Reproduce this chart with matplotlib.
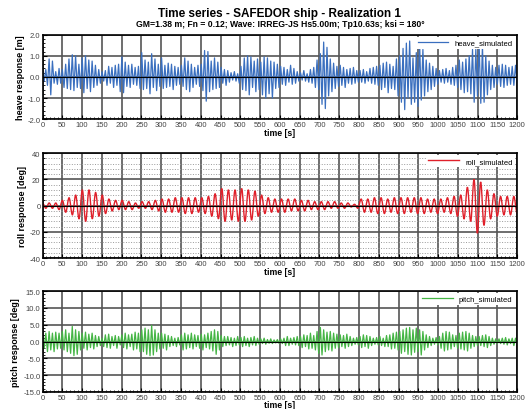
import numpy as np
import matplotlib
matplotlib.use('Agg')
import matplotlib.pyplot as plt
from matplotlib.path import Path
from matplotlib.patches import PathPatch
from matplotlib.lines import Line2D
from matplotlib.ticker import MultipleLocator, FormatStrFormatter

plt.rcParams['font.family'] = ['Liberation Sans', 'DejaVu Sans']

# turning points, one row per 50 s block
heave = [
    0.4, -0.2, 0.35, -0.4, 0.85, -0.85, 0.75, -0.3, 0.25, -0.35, 0.4, -0.3,
    0.35, -0.5, 0.6, -0.55, 0.85, -0.6, 1.05, -0.65, 1.0, -0.5, 0.6, -0.55,
    0.9, -0.75, 1.0, -0.55, 0.8, -0.7, 0.75, -0.5, 0.55, -0.4, 0.35, -0.3,
    0.25, -0.2, 0.3, -0.4, 0.5, -0.3, 0.45, -0.5, 0.55, -0.4, 0.6, -0.7,
    0.95, -0.75, 0.7, -0.45, 0.55, -0.5, 0.6, -0.35, 0.45, -0.4, 0.5, -0.55,
    1.15, -0.6, 0.8, -0.55, 0.7, -0.8, 1.1, -0.5, 0.85, -0.65, 0.6, -0.45,
    0.9, -0.55, 0.55, -0.5, 0.65, -0.45, 0.6, -0.6, 0.5, -0.4, 0.45, -0.35,
    0.55, -0.45, 0.9, -0.6, 0.75, -0.7, 0.6, -0.5, 0.45, -0.35, 0.55, -0.45,
    0.6, -0.65, 1.25, -1.15, 1.2, -0.7, 0.75, -0.6, 0.9, -0.55, 0.7, -0.5,
    0.45, -0.3, 0.35, -0.4, 0.3, -0.25, 0.2, -0.15, 0.25, -0.2, 0.15, -0.3,
    0.5, -0.6, 0.9, -0.65, 1.0, -0.85, 0.95, -0.5, 0.75, -0.7, 0.85, -0.6,
    0.7, -0.85, 0.95, -1.0, 0.9, -0.8, 0.75, -1.0, 0.7, -0.55, 0.6, -0.5,
    0.5, -0.35, 0.45, -0.4, 0.35, -0.25, 0.55, -0.35, 0.4, -0.3, 0.25, -0.2,
    0.2, -0.15, 0.3, -0.2, 0.15, -0.25, 0.35, -0.3, 0.45, -0.5, 0.8, -0.6,
    1.1, -1.3, 1.65, -1.5, 1.4, -0.9, 0.85, -0.7, 0.65, -0.55, 0.5, -0.45,
    0.55, -0.4, 0.45, -0.5, 0.35, -0.3, 0.4, -0.35, 0.45, -0.3, 0.3, -0.25,
    0.3, -0.25, 0.35, -0.3, 0.25, -0.2, 0.4, -0.3, 0.45, -0.35, 0.5, -0.4,
    0.55, -0.6, 0.65, -0.5, 0.7, -0.75, 0.6, -0.55, 0.5, -0.6, 0.85, -0.9,
    1.0, -1.2, 1.35, -1.55, 1.6, -1.0, 1.7, -1.3, 0.9, -1.2, 1.15, -1.4,
    1.6, -1.1, 1.3, -0.9, 0.8, -0.7, 0.65, -0.6, 0.5, -0.45, 0.4, -0.35,
    0.3, -0.25, 0.35, -0.3, 0.4, -0.25, 0.3, -0.35, 0.45, -0.4, 0.55, -0.5,
    0.8, -0.6, 0.7, -0.75, 0.85, -0.7, 1.0, -0.8, 1.3, -1.2, 1.3, -0.9,
    1.5, -1.25, 1.45, -1.2, 1.0, -0.85, 0.75, -0.6, 0.55, -0.5, 0.45, -0.35,
    0.55, -0.45, 0.6, -0.5, 0.55, -0.4, 0.45, -0.35, 0.5, -0.4, 0.55, -0.3,
]

roll = [
    2, -2, 2, -2, 2, -3,
    4, -5, 6, -7, 8, -10,
    12, -12, 12, -10, 10, -8,
    8, -6, 5, -4, 4, -3,
    4, -3, 3, -3, 2, -2,
    3, -2, 3, -3, 4, -4,
    5, -5, 5, -5, 6, -5,
    6, -6, 6, -6, 6, -5,
    6, -6, 7, -8, 9, -10,
    13, -12, 12, -11, 12, -12,
    13, -12, 12, -11, 11, -8,
    8, -6, 6, -5, 5, -5,
    5, -5, 5, -4, 5, -4,
    4, -4, 4, -3, 3, -3,
    3, -3, 3, -2, 3, -2,
    2, -2, 2, -1, 1, -2,
    5, -5, 5, -5, 6, -6,
    6, -6, 5, -5, 6, -6,
    6, -6, 6, -5, 6, -6,
    6, -6, 5, -5, 5, -6,
    5, -5, 6, -6, 7, -8,
    8, -10, 14, -12, 20, -21,
    18, -15, 12, -10, 9, -8,
    7, -7, 7, -7, 7, -6,
]

pitch = [
    1.5, -2.0, 2.5, -3.0, 3.0, -2.5, 2.5, -3.0, 2.8, -2.2, 2.5, -2.0,
    3.0, -2.5, 3.5, -3.0, 2.5, -3.5, 4.5, -4.2, 3.5, -3.8, 3.0, -2.5,
    2.5, -2.0, 2.8, -2.5, 2.2, -1.8, 2.5, -2.2, 1.8, -1.5, 1.5, -1.2,
    1.0, -1.5, 2.0, -1.8, 2.2, -2.0, 1.5, -1.2, 1.8, -2.0, 1.5, -1.0,
    2.0, -1.8, 2.5, -2.2, 2.0, -1.5, 2.2, -2.5, 2.8, -2.2, 2.5, -3.0,
    3.5, -3.0, 4.0, -3.8, 3.5, -4.2, 4.8, -4.0, 3.5, -3.0, 2.5, -2.2,
    2.5, -2.0, 2.2, -2.5, 1.8, -1.5, 1.5, -1.2, 1.0, -1.5, 1.2, -1.0,
    2.0, -2.5, 2.5, -2.2, 2.0, -1.8, 2.5, -2.2, 2.0, -1.5, 1.8, -2.0,
    2.2, -2.5, 2.0, -1.8, 2.5, -2.2, 3.0, -2.8, 3.5, -3.8, 3.0, -2.5,
    1.8, -1.5, 1.5, -1.2, 1.5, -1.0, 1.2, -1.5, 1.0, -1.2, 1.5, -1.0,
    1.2, -1.5, 1.5, -1.2, 1.0, -1.5, 1.2, -1.0, 1.5, -1.2, 1.0, -0.8,
    0.8, -0.6, 1.0, -0.8, 0.6, -0.5, 0.8, -0.6, 0.5, -0.4, 0.6, -0.5,
    0.8, -0.6, 1.0, -1.2, 1.5, -1.2, 1.0, -0.8, 1.2, -1.0, 1.5, -1.2,
    1.5, -1.8, 2.0, -1.5, 1.8, -2.2, 2.5, -2.0, 1.8, -2.5, 3.0, -3.5,
    4.2, -4.0, 3.5, -3.0, 2.8, -2.5, 3.0, -2.8, 2.5, -2.0, 2.2, -1.8,
    2.0, -1.5, 1.8, -2.0, 2.2, -1.5, 1.5, -1.2, 1.0, -0.8, 1.2, -1.0,
    1.5, -1.8, 2.0, -1.5, 1.8, -2.0, 1.5, -1.2, 1.0, -0.8, 1.2, -1.0,
    1.5, -1.2, 1.0, -1.5, 1.8, -1.5, 2.0, -2.2, 2.5, -2.0, 2.8, -2.5,
    3.0, -3.5, 3.5, -3.0, 4.0, -3.8, 4.2, -4.0, 3.5, -3.2, 4.0, -3.0,
    3.5, -4.0, 3.0, -2.5, 2.0, -1.8, 1.5, -1.2, 1.0, -0.8, 1.2, -1.0,
    1.5, -2.0, 2.5, -2.8, 3.0, -2.5, 2.8, -2.2, 2.0, -1.5, 1.8, -2.0,
    2.5, -2.2, 2.8, -2.5, 3.0, -2.8, 2.5, -2.0, 1.8, -1.5, 1.5, -1.2,
    1.5, -1.2, 1.8, -1.5, 2.0, -1.8, 1.5, -1.2, 1.0, -0.8, 0.8, -0.6,
    0.8, -0.6, 1.0, -0.8, 1.2, -1.0, 0.8, -0.6, 1.0, -1.2, 1.0, -0.5,
]

T_END = 1200.0
heave_t = np.linspace(0, T_END, len(heave))
roll_t = np.linspace(0, T_END, len(roll))
pitch_t = np.linspace(0, T_END, len(pitch))


def smooth_path(t, y):
    # cubic bezier between turning points, flat tangents at each extreme
    verts = [(t[0], y[0])]
    codes = [Path.MOVETO]
    for i in range(1, len(t)):
        d = t[i] - t[i - 1]
        verts += [(t[i - 1] + 0.36 * d, y[i - 1]), (t[i] - 0.36 * d, y[i]), (t[i], y[i])]
        codes += [Path.CURVE4] * 3
    return Path(verts, codes)


def style_axis(ax, ylim, ymajor, yminor, fmt, ylabel, handle, label, dotted=False):
    ax.set_xlim(0, T_END)
    ax.set_ylim(*ylim)
    ax.xaxis.set_major_locator(MultipleLocator(50))
    ax.xaxis.set_minor_locator(MultipleLocator(10))
    ax.yaxis.set_major_locator(MultipleLocator(ymajor))
    ax.yaxis.set_minor_locator(MultipleLocator(yminor))
    ax.yaxis.set_major_formatter(FormatStrFormatter(fmt))
    ax.grid(which='major', color='#555555', linewidth=1.2)
    if dotted:
        ax.grid(which='minor', axis='y', color='#9a9a9a', linestyle=':', linewidth=0.7)
    ax.axhline(0, color='black', linewidth=0.8, zorder=3)
    ax.set_axisbelow(True)
    ax.tick_params(which='both', direction='in', labelsize=5.5, labelcolor='#444444',
                   pad=1.5)
    ax.tick_params(which='major', length=3, width=0.8)
    ax.tick_params(which='minor', length=1.5, width=0.6)
    for s in ax.spines.values():
        s.set_linewidth(1.2)
    ax.set_xlabel('time [s]', fontsize=6.3, fontweight='bold', labelpad=-0.5)
    ax.set_ylabel(ylabel, fontsize=6.5, fontweight='bold', labelpad=2)
    leg = ax.legend([handle], [label], loc='upper right', fontsize=5.5, frameon=True,
                    fancybox=False, handlelength=4, borderaxespad=0.3, borderpad=0.3)
    leg.get_frame().set_edgecolor('none')
    leg.get_frame().set_facecolor('white')
    leg.get_frame().set_alpha(1)


fig = plt.figure(figsize=(5.28, 4.10), dpi=100)
ax1 = fig.add_axes([0.0805, 0.707, 0.899, 0.206])
ax2 = fig.add_axes([0.0805, 0.368, 0.899, 0.256])
ax3 = fig.add_axes([0.0805, 0.0415, 0.899, 0.246])

h1, = ax1.plot(heave_t, heave, color='#3a6fbf', linewidth=0.9, zorder=2)
style_axis(ax1, (-2, 2), 1.0, 0.2, '%.1f', 'heave response [m]', h1, 'heave_simulated')

ax2.add_patch(PathPatch(smooth_path(roll_t, roll), facecolor='none', edgecolor='#e0202a',
                        linewidth=1.0, zorder=2))
h2 = Line2D([], [], color='#e0202a', linewidth=1.0)
style_axis(ax2, (-40, 40), 20, 4, '%d', 'roll response [deg]', h2, 'roll_simulated',
           dotted=True)

h3, = ax3.plot(pitch_t, pitch, color='#45b545', linewidth=0.9, zorder=2)
style_axis(ax3, (-15, 15), 5.0, 1.0, '%.1f', 'pitch response [deg]', h3, 'pitch_simulated')

fig.text(0.53, 0.967, 'Time series - SAFEDOR ship - Realization 1', ha='center', va='center',
         fontsize=8.5, fontweight='bold')
fig.text(0.53, 0.94, 'GM=1.38 m; Fn = 0.12; Wave: IRREG-JS Hs5.00m; Tp10.63s; ksi = 180°',
         ha='center', va='center', fontsize=6.2, fontweight='bold')

fig.savefig('out.png', dpi=100)
